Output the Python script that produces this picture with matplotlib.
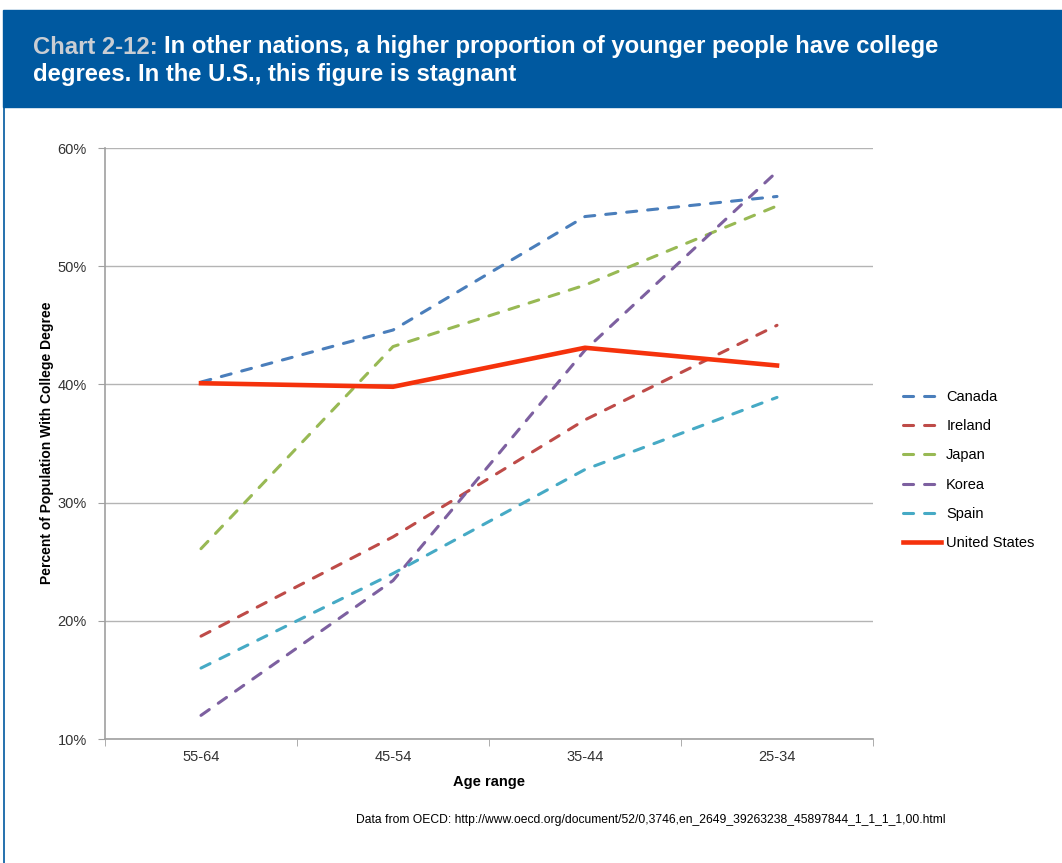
import matplotlib.pyplot as plt
from matplotlib.patches import Rectangle
from matplotlib.lines import Line2D
import numpy as np

plt.rcParams['font.family'] = ['Liberation Sans', 'DejaVu Sans']

# data (percent with college degree)
age_ranges = ['55-64', '45-54', '35-44', '25-34']
canada = [40.2, 44.6, 54.2, 55.9]
ireland = [18.7, 27.1, 37.0, 45.0]
japan = [26.1, 43.2, 48.4, 55.1]
korea = [12.0, 23.4, 42.9, 58.0]
spain = [16.0, 24.0, 32.8, 38.9]
united_states = [40.1, 39.8, 43.1, 41.6]

W, H = 1062, 863
fig = plt.figure(figsize=(W / 100, H / 100), dpi=100)

def fx(px):
    return px / W

def fy(py):
    return 1 - py / H

# header band
fig.patches.append(Rectangle((fx(3), fy(107)), 1 - fx(3), fy(10) - fy(107),
                             transform=fig.transFigure, color='#0059A0', zorder=0))
fig.add_artist(Line2D([fx(3.5), fx(3.5)], [0, fy(107)], color='#0059A0', lw=1.2))
t1 = fig.text(fx(33), fy(47), 'Chart 2-12: ', color='#C9CDD3', fontsize=17.2, fontweight='bold', va='center')
fig.canvas.draw()
ext = t1.get_window_extent()
fig.text(ext.x1 / W, fy(47), 'In other nations, a higher proportion of younger people have college',
         color='white', fontsize=17.2, fontweight='bold', va='center')
fig.text(fx(33), fy(75), 'degrees. In the U.S., this figure is stagnant',
         color='white', fontsize=17.2, fontweight='bold', va='center')

ax = fig.add_axes([fx(105), fy(739), fx(873) - fx(105), fy(148) - fy(739)])
x = np.arange(len(age_ranges))

dash = (3.3, 3.6)
series = [
    ('Canada', canada, '#4A7EBB'),
    ('Ireland', ireland, '#BE4B48'),
    ('Japan', japan, '#98B954'),
    ('Korea', korea, '#7D60A0'),
    ('Spain', spain, '#46AAC5'),
]
for name, vals, col in series:
    ax.plot(x, vals, color=col, lw=2.2, dashes=dash, dash_capstyle='round', label=name, zorder=3)
ax.plot(x, united_states, color='#F5320C', lw=3.3, label='United States', zorder=4)

ax.set_xlim(-0.5, 3.5)
ax.set_ylim(10, 60)
ax.set_yticks([10, 20, 30, 40, 50, 60])
ax.set_yticklabels([f'{v}%' for v in [10, 20, 30, 40, 50, 60]])
ax.set_xticks(x)
ax.set_xticklabels(age_ranges)
ax.set_xticks([-0.5, 0.5, 1.5, 2.5, 3.5], minor=True)
ax.tick_params(axis='x', which='major', length=0, pad=8, labelsize=10.5, labelcolor='#333333')
ax.tick_params(axis='x', which='minor', length=5, color='#A0A0A0', direction='out')
ax.tick_params(axis='y', length=5, color='#A0A0A0', pad=8, labelsize=10.5, labelcolor='#333333')
ax.grid(axis='y', color='#B4B4B4', lw=1)
ax.set_axisbelow(True)
for s in ['top', 'right']:
    ax.spines[s].set_visible(False)
for s in ['left', 'bottom']:
    ax.spines[s].set_color('#A0A0A0')
    ax.spines[s].set_linewidth(1.2)

ax.set_xlabel('Age range', fontsize=10.5, fontweight='bold', labelpad=8)
fig.text(fx(47), fy(443), 'Percent of Population With College Degree', rotation=90,
         fontsize=10, fontweight='bold', ha='center', va='center')

ax.legend(loc='center left', bbox_to_anchor=(fx(890), fy(470)), bbox_transform=fig.transFigure,
          frameon=False, fontsize=10.5, handlelength=2.6, labelspacing=1.05, handletextpad=0.35)

fig.text(fx(651), fy(820), 'Data from OECD: http://www.oecd.org/document/52/0,3746,en_2649_39263238_45897844_1_1_1_1,00.html',
         fontsize=8.7, ha='center', va='center')

fig.savefig('out.png', dpi=100)
